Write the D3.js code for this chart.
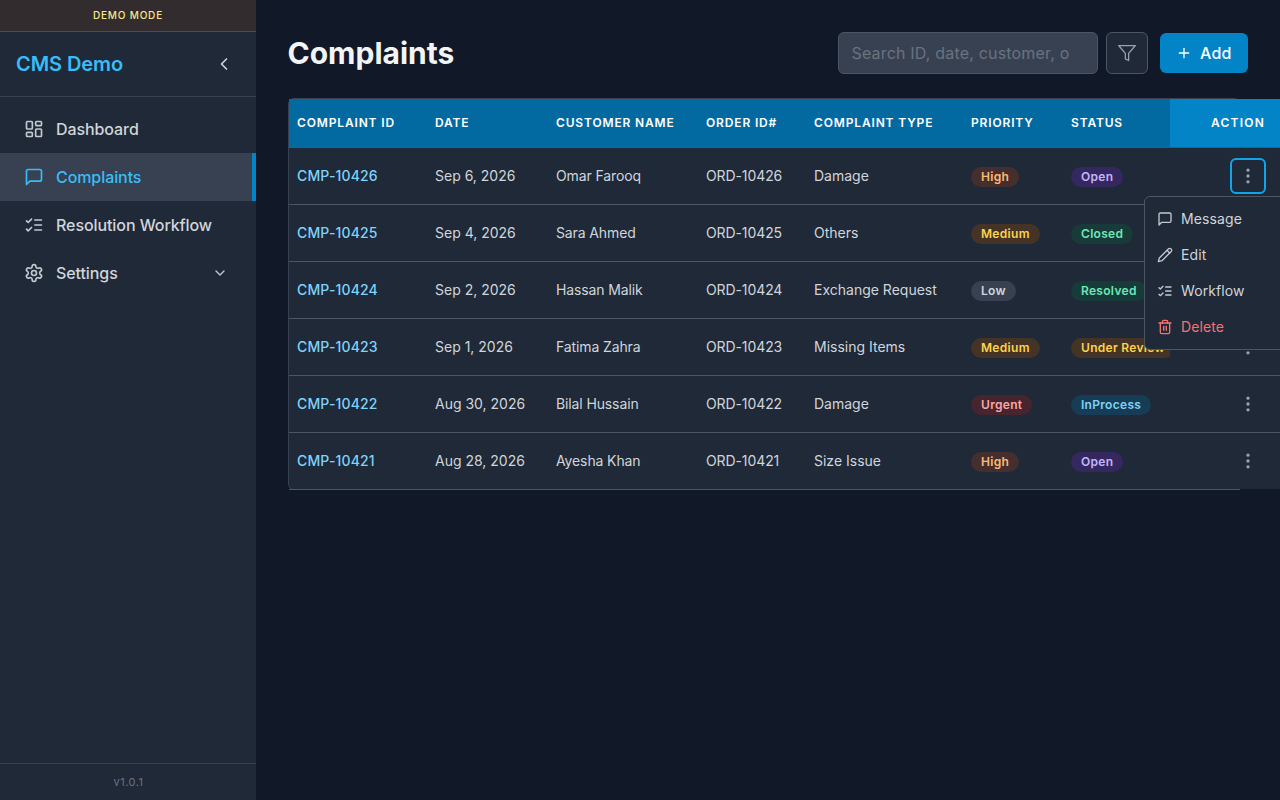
<!DOCTYPE html>
<html><head><meta charset="utf-8">
<script src="https://cdn.jsdelivr.net/npm/d3@7/dist/d3.min.js"></script>
<style>html,body{margin:0;padding:0;background:#111827;overflow:hidden;width:1280px;height:800px}
#c{position:relative;width:1280px;height:800px;overflow:hidden;font-family:Inter,sans-serif}
#c div,#c svg{position:absolute;box-sizing:border-box;display:block}
.t{white-space:pre}</style>
</head><body><div id="c"></div>
<script>
const columns=["COMPLAINT ID","DATE","CUSTOMER NAME","ORDER ID#","COMPLAINT TYPE","PRIORITY","STATUS"];
const ids=["CMP-10426","CMP-10425","CMP-10424","CMP-10423","CMP-10422","CMP-10421"];
const dates=["Sep 6, 2026","Sep 4, 2026","Sep 2, 2026","Sep 1, 2026","Aug 30, 2026","Aug 28, 2026"];
const customers=["Omar Farooq","Sara Ahmed","Hassan Malik","Fatima Zahra","Bilal Hussain","Ayesha Khan"];
const orders=["ORD-10426","ORD-10425","ORD-10424","ORD-10423","ORD-10422","ORD-10421"];
const types=["Damage","Others","Exchange Request","Missing Items","Damage","Size Issue"];
const priorities=["High","Medium","Low","Medium","Urgent","High"];
const statuses=["Open","Closed","Resolved","Under Review","InProcess","Open"];
const navItems=["Dashboard","Complaints","Resolution Workflow","Settings"];
const menuItems=["Message","Edit","Workflow","Delete"];

const pillStyle={High:["#452f2e","#fdba74"],Medium:["#453426","#fcd34d"],Low:["#374151","#d1d5db"],Urgent:["#47252e","#fca5a5"],
 Open:["#35275f","#c4b5fd"],Closed:["#163b39","#6ee7b7"],Resolved:["#163b39","#6ee7b7"],"Under Review":["#453426","#fcd34d"],InProcess:["#173c56","#7dd3fc"]};
const icons={
 dash:'<rect x="3" y="3" width="7" height="9" rx="1"/><rect x="14" y="3" width="7" height="5" rx="1"/><rect x="14" y="12" width="7" height="9" rx="1"/><rect x="3" y="16" width="7" height="5" rx="1"/>',
 msg:'<path d="M21 15a2 2 0 0 1-2 2H7l-4 4V5a2 2 0 0 1 2-2h14a2 2 0 0 1 2 2z"/>',
 list:'<path d="m3 17 2 2 4-4"/><path d="m3 7 2 2 4-4"/><path d="M13 6h8"/><path d="M13 12h8"/><path d="M13 18h8"/>',
 gear:'<path d="M12.22 2h-.44a2 2 0 0 0-2 2v.18a2 2 0 0 1-1 1.73l-.43.25a2 2 0 0 1-2 0l-.15-.08a2 2 0 0 0-2.73.73l-.22.38a2 2 0 0 0 .73 2.73l.15.1a2 2 0 0 1 1 1.72v.51a2 2 0 0 1-1 1.74l-.15.09a2 2 0 0 0-.73 2.73l.22.38a2 2 0 0 0 2.73.73l.15-.08a2 2 0 0 1 2 0l.43.25a2 2 0 0 1 1 1.73V20a2 2 0 0 0 2 2h.44a2 2 0 0 0 2-2v-.18a2 2 0 0 1 1-1.73l.43-.25a2 2 0 0 1 2 0l.15.08a2 2 0 0 0 2.73-.73l.22-.39a2 2 0 0 0-.73-2.73l-.15-.08a2 2 0 0 1-1-1.74v-.5a2 2 0 0 1 1-1.74l.15-.09a2 2 0 0 0 .73-2.73l-.22-.38a2 2 0 0 0-2.73-.73l-.15.08a2 2 0 0 1-2 0l-.43-.25a2 2 0 0 1-1-1.73V4a2 2 0 0 0-2-2z"/><circle cx="12" cy="12" r="3"/>',
 filter:'<polygon points="22 3 2 3 10 12.46 10 19 14 21 14 12.46 22 3"/>',
 plus:'<path d="M5 12h14"/><path d="M12 5v14"/>',
 pencil:'<path d="M17 3a2.85 2.83 0 1 1 4 4L7.5 20.5 2 22l1.5-5.5Z"/><path d="m15 5 4 4"/>',
 trash:'<path d="M3 6h18"/><path d="M19 6v14c0 1-1 2-2 2H7c-1 0-2-1-2-2V6"/><path d="M8 6V4c0-1 1-2 2-2h4c1 0 2 1 2 2v2"/><line x1="10" y1="11" x2="10" y2="17"/><line x1="14" y1="11" x2="14" y2="17"/>',
 left:'<path d="m15 18-6-6 6-6"/>',
 down:'<path d="m6 9 6 6 6-6"/>',
 more:'<circle cx="12" cy="12" r="1"/><circle cx="12" cy="5" r="1"/><circle cx="12" cy="19" r="1"/>'
};
const root=d3.select("#c");
function icon(name,cx,cy,size,color,sw){
 return root.append("svg").attr("viewBox","0 0 24 24").attr("width",size).attr("height",size)
  .style("left",(cx-size/2)+"px").style("top",(cy-size/2)+"px")
  .attr("fill","none").attr("stroke",color).attr("stroke-width",sw||2).attr("stroke-linecap","round").attr("stroke-linejoin","round").html(icons[name]);
}
function label(x,y,t,size,weight,color,anchor,ls){
 const lh=2*Math.round(size*0.75);
 const d=root.append("div").attr("class","t").style("top",(y-lh/2)+"px").style("line-height",lh+"px").style("height",lh+"px")
  .style("font-size",size+"px").style("font-weight",weight).style("color",color).style("letter-spacing",(ls||0)+"px").text(t);
 if(anchor==="middle")d.style("left",(x-300)+"px").style("width","600px").style("text-align","center");
 else if(anchor==="end")d.style("left",(x-300)+"px").style("width","300px").style("text-align","right");
 else d.style("left",x+"px");
 return d;
}
function box(x,y,w,h,fill,r,stroke,bw){
 const b=root.append("div").style("left",x+"px").style("top",y+"px").style("width",w+"px").style("height",h+"px")
  .style("background",fill).style("border-radius",(r||0)+"px");
 if(stroke)b.style("border",(bw||1)+"px solid "+stroke);
 return b;
}
function hline(x1,x2,y,c){box(x1,y,x2-x1,1,c);}

// Sidebar
const iconGray="#c3c8d0";
box(0,0,256,800,"#1f2937");
box(0,0,256,31,"#322c2f");
hline(0,256,31,"#78401a");
label(128,15,"DEMO MODE",10,500,"#fde68a","middle",0.8);
label(16,64,"CMS Demo",20,600,"#38bdf8","start",-0.08);
icon("left",224,64,20,"#d1d5db");
hline(0,256,96,"#374151");
const navY=d3.scalePoint().domain(navItems).range([129,273]);
const navIcons=["dash","msg","list","gear"];
box(0,153,256,48,"#374151");
box(252,153,4,48,"#0284c7");
navItems.forEach((n,i)=>{
 const act=n==="Complaints",c=act?"#38bdf8":"#d1d5db";
 icon(navIcons[i],34,navY(n),20,act?"#38bdf8":iconGray);
 label(56,navY(n),n,16,500,c,"start",-0.08);
});
icon("down",220,272.5,16,iconGray);
hline(0,256,763,"#374151");
label(128.5,782,"v1.0.1",11,400,"#6b7280","middle",0.5);

// Top bar
label(287.5,53,"Complaints",30,700,"#f3f4f6");
box(838,32,260,42,"#374151",6,"#4b5563");
label(851.5,53,"Search ID, date, customer, o",16,400,"#6b7280","start",0.18);
box(1106,32,42,42,"#1f2937",6,"#4b5563");
icon("filter",1127,53,20,"#9ca3af",1.5);
box(1160,33,88,40,"#0284c7",6);
icon("plus",1184,53,16,"#ffffff");
label(1200,53,"Add",16,500,"#ffffff","start",0.16);

// Table
const rowIdx=d3.range(ids.length);
const rowY=d3.scaleBand().domain(rowIdx).range([148,490]);
const colX=d3.scaleOrdinal().domain(columns).range([297,435,556,706,814,971,1071]);
box(288,98,952,392,"#1f2937",6,"#374151");
box(289,99,991,48,"#0369a1");
box(1170,99,110,48,"#0284c7");
box(1240,148,40,340,"#1f2937");
hline(289,1280,147,"#4b5563");
columns.forEach(c=>label(colX(c),123,c,12,600,"#ffffff","start",0.85));
label(1265,123,"ACTION",12,600,"#ffffff","end",1.2);
function pill(x,cy,t){
 const s=pillStyle[t];
 label(x,cy,t,12,600,s[1],"start",0.3)
  .style("padding","0 10px").style("background",s[0]).style("border-radius","10px")
  .style("height","20px").style("line-height","20px").style("top",(cy-10)+"px");
}
rowIdx.forEach(i=>{
 const y=rowY(i),cy=y+rowY.bandwidth()/2-0.5;
 hline(289,i===5?1240:1280,y+56,"#4b5563");
 label(colX(columns[0]),cy,ids[i],14,500,"#7dd3fc","start",0.14);
 label(colX(columns[1]),cy,dates[i],14,400,"#d1d5db");
 label(colX(columns[2]),cy,customers[i],14,400,"#d1d5db","start",-0.12);
 label(colX(columns[3]),cy,orders[i],14,400,"#d1d5db","start",-0.1);
 label(colX(columns[4]),cy,types[i],14,400,"#d1d5db");
 pill(colX(columns[5]),cy+1,priorities[i]);
 pill(colX(columns[6]),cy+1,statuses[i]);
 box(1170,y,110,56,"#1f2937");
 icon("more",1248,cy,20,"#9ca3af");
});
box(1230,158,36,36,"transparent",6,"#0ea5e9",2);

// Menu
box(1144,196,150,154,"#1f2937",6,"#4b5563");
const menuY=d3.scalePoint().domain(menuItems).range([219,327]);
const menuIcons=["msg","pencil","list","trash"];
menuItems.forEach((m,i)=>{
 const c=m==="Delete"?"#f87171":"#d1d5db";
 icon(menuIcons[i],1165,menuY(m),16,m==="Delete"?c:iconGray);
 label(1181,menuY(m),m,14,400,c,"start",0.1);
});
</script></body></html>
